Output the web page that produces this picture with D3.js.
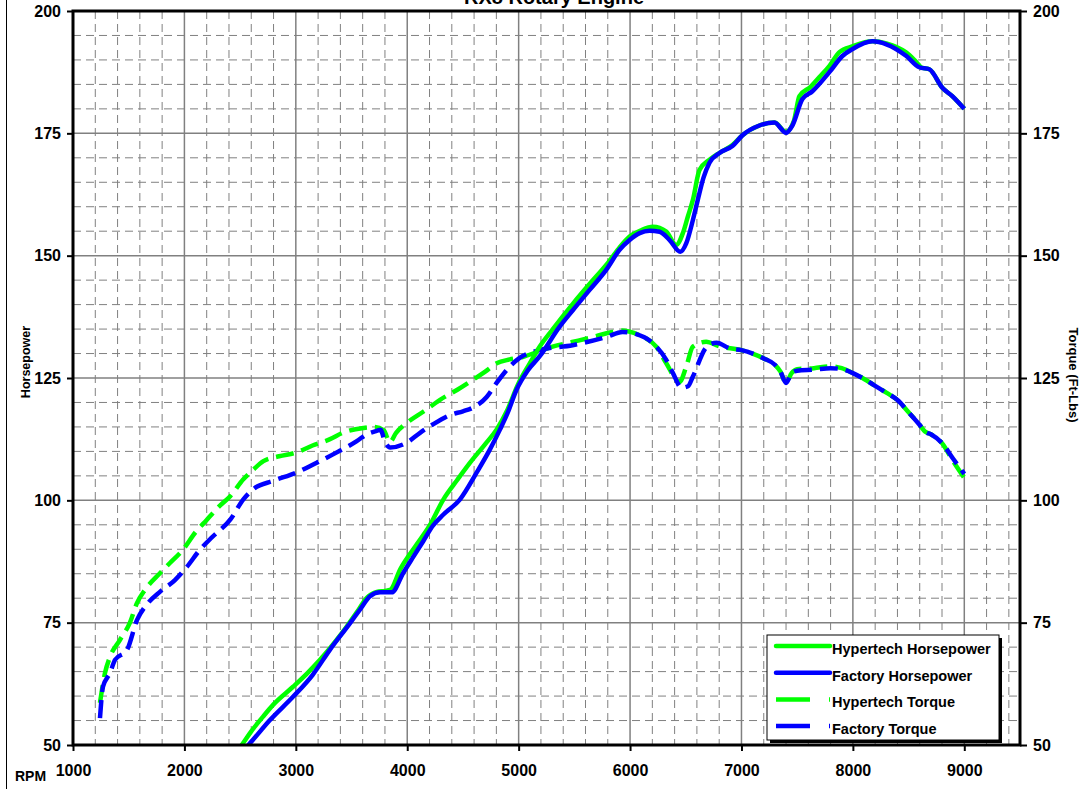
<!DOCTYPE html>
<html>
<head>
<meta charset="utf-8">
<script src="https://cdn.jsdelivr.net/npm/d3@7"></script>
<style>
  html, body { margin: 0; padding: 0; background: #fff; }
  svg { display: block; font-family: "Liberation Sans", Arial, sans-serif; font-weight: bold; }
</style>
</head>
<body>
<svg id="chart" width="1090" height="789"></svg>
<script>
// ---------- DATA ----------
const title = "RX8 Rotary Engine";
const rpmTicks = [1000, 2000, 3000, 4000, 5000, 6000, 7000, 8000, 9000];
const valueTicks = [50, 75, 100, 125, 150, 175, 200];

const hyperHpRpm = [2420, 2514, 2600, 2706, 2800, 2975, 3100, 3217, 3350, 3457, 3550, 3637, 3727, 3800, 3847, 3937, 4086, 4200, 4325, 4450, 4564, 4700, 4803, 4900, 4990, 5100, 5188, 5300, 5488, 5640, 5786, 5900, 5996, 6100, 6205, 6325, 6414, 6474, 6519, 6564, 6623, 6713, 6803, 6919, 7009, 7161, 7296, 7400, 7470, 7520, 7620, 7700, 7790, 7879, 8000, 8175, 8300, 8480, 8560, 8620, 8686, 8803, 8892, 9000];
const hyperHpVal = [47.5, 50, 52.8, 55.8, 58.3, 61.9, 64.6, 67.4, 71, 74.2, 77.2, 80.1, 81.3, 81.5, 81.7, 85.9, 91, 94.8, 100.2, 104.2, 107.7, 111.5, 114.5, 118.5, 123.5, 128, 131.4, 134.8, 140.2, 144.3, 148.1, 151.5, 153.9, 155.2, 155.9, 154.9, 152.2, 154.6, 158, 161.4, 167.5, 169.6, 171, 172.6, 174.6, 176.6, 177.2, 175.3, 177.5, 182.6, 184.5, 186.5, 188.8, 191.6, 192.8, 193.8, 193.4, 191.5, 189.8, 188.4, 188.1, 184.3, 182.6, 180];

const factHpRpm = [2480, 2574, 2768, 2977, 3150, 3307, 3487, 3580, 3666, 3756, 3861, 3965, 4050, 4145, 4230, 4325, 4474, 4624, 4740, 4833, 4900, 4979, 5080, 5188, 5368, 5488, 5637, 5786, 5906, 5996, 6086, 6175, 6265, 6355, 6451, 6504, 6564, 6608, 6660, 6713, 6803, 6919, 7009, 7161, 7296, 7400, 7457, 7547, 7637, 7789, 7906, 7996, 8175, 8300, 8480, 8596, 8686, 8803, 8892, 9000];
const factHpVal = [47.8, 50, 55.1, 59.9, 64.3, 69.5, 74.9, 77.8, 80.4, 81.2, 81.2, 85.2, 88.3, 91.7, 94.8, 97.1, 100.2, 105.7, 110.3, 114.5, 117.8, 122.5, 126.5, 129.4, 135.5, 138.9, 143, 147.1, 151.2, 153.2, 154.6, 155.1, 154.9, 153.2, 150.8, 152.5, 157.3, 161.4, 166, 169, 171, 172.4, 174.6, 176.6, 177.2, 175.1, 176.6, 182, 183.6, 187.5, 190.8, 192.2, 193.8, 193.2, 190.8, 188.5, 188.1, 184.3, 182.6, 180];

const hyperTqRpm = [1242, 1287, 1332, 1422, 1511, 1574, 1646, 1780, 1870, 1987, 2100, 2200, 2300, 2413, 2529, 2620, 2709, 2850, 3008, 3150, 3307, 3422, 3606, 3700, 3790, 3843, 3900, 3996, 4150, 4291, 4450, 4587, 4700, 4802, 4920, 5036, 5188, 5305, 5470, 5637, 5843, 5920, 5990, 6100, 6235, 6325, 6444, 6504, 6564, 6683, 6800, 7000, 7200, 7300, 7350, 7400, 7450, 7500, 7650, 7800, 7900, 8000, 8100, 8200, 8300, 8400, 8500, 8600, 8650, 8700, 8800, 8900, 9000];
const hyperTqVal = [58.6, 64.7, 68, 71.5, 75, 79, 81.7, 85.1, 87.2, 89.9, 93.5, 96, 98.5, 100.9, 104.3, 106.3, 108, 109, 109.8, 111.2, 112.5, 113.8, 114.8, 115, 114.3, 111.9, 113.8, 115.8, 118.2, 120.5, 122.6, 124.6, 126.3, 128, 128.8, 129.3, 130.5, 131.4, 132.3, 133.2, 134.4, 134.7, 134.5, 133.6, 131.4, 128, 124.2, 127.3, 131.4, 132.4, 131.5, 130.7, 129, 127.7, 126.3, 124, 126, 126.8, 127, 127.4, 127, 126, 124.8, 123.4, 122, 120.5, 118, 115.4, 114, 113.5, 111.7, 108, 104.6];

const factTqRpm = [1242, 1269, 1332, 1377, 1484, 1574, 1673, 1780, 1915, 2022, 2139, 2250, 2413, 2529, 2619, 2799, 3008, 3188, 3368, 3547, 3637, 3727, 3760, 3800, 3847, 3996, 4115, 4229, 4381, 4500, 4587, 4713, 4802, 4919, 5009, 5188, 5484, 5789, 5933, 6050, 6205, 6325, 6385, 6462, 6520, 6564, 6686, 6776, 6900, 7000, 7200, 7300, 7350, 7400, 7450, 7500, 7650, 7800, 7900, 8000, 8100, 8200, 8300, 8400, 8500, 8600, 8650, 8700, 8800, 8900, 9000];
const factTqVal = [55.5, 61.9, 64.7, 67.4, 69.4, 75.5, 79, 81.3, 83.7, 86.4, 89.9, 92.5, 96.1, 100.2, 102.3, 104, 105.7, 107.7, 109.8, 112.1, 113.5, 114.2, 114.4, 112, 110.8, 111.8, 113.8, 115.5, 117.4, 118.2, 118.9, 121.1, 124, 127.3, 129.1, 130.7, 131.7, 133.4, 134.4, 134, 132.1, 128.7, 126, 123, 123.3, 125.3, 131.3, 132.2, 131, 130.7, 129, 127.7, 126.3, 124, 126, 126.5, 126.7, 127, 126.8, 126, 124.8, 123.4, 122, 120.5, 118, 115.4, 114, 113.5, 111.7, 108.5, 105.4];

const seriesNames = ["Hypertech Horsepower", "Factory Horsepower", "Hypertech Torque", "Factory Torque"];
const seriesColors = ["#00ff00", "#0000ff", "#00ff00", "#0000ff"];

// ---------- CHART ----------
(function () {
const svg = d3.select("#chart");
const pL = 73, pR = 1020, pT = 11, pB = 745;
const x = d3.scaleLinear().domain([1000, 9500]).range([pL, pR]);
const y = d3.scaleLinear().domain([50, 200]).range([pB, pT]);

// outer chart-area edge
svg.append("line").attr("x1", 6.5).attr("x2", 6.5).attr("y1", 0).attr("y2", 789)
  .attr("stroke", "#000").attr("stroke-width", 1);

// title (partly above the top edge, as in the source)
svg.append("text").attr("x", 554).attr("y", 4).attr("text-anchor", "middle")
  .attr("font-size", 20).text(title);

// grid
const grid = svg.append("g");
const minorX = d3.range(1000, 9501, 200).filter(v => v % 1000 !== 0 && v < 9500);
const minorY = d3.range(50, 201, 5).filter(v => v % 25 !== 0);
grid.selectAll(".mx").data(minorX).join("line")
  .attr("x1", d => x(d)).attr("x2", d => x(d)).attr("y1", pT).attr("y2", pB)
  .attr("stroke", "#808080").attr("stroke-width", 1).attr("stroke-dasharray", "8,5");
grid.selectAll(".my").data(minorY).join("line")
  .attr("x1", pL).attr("x2", pR).attr("y1", d => y(d)).attr("y2", d => y(d))
  .attr("stroke", "#808080").attr("stroke-width", 1).attr("stroke-dasharray", "8,5");
grid.selectAll(".MX").data(rpmTicks.filter(v => v > 1000)).join("line")
  .attr("x1", d => x(d)).attr("x2", d => x(d)).attr("y1", pT).attr("y2", pB)
  .attr("stroke", "#808080").attr("stroke-width", 1.5);
grid.selectAll(".MY").data(valueTicks.filter(v => v > 50 && v < 200)).join("line")
  .attr("x1", pL).attr("x2", pR).attr("y1", d => y(d)).attr("y2", d => y(d))
  .attr("stroke", "#808080").attr("stroke-width", 1.5);

// clip
svg.append("clipPath").attr("id", "plotclip").append("rect")
  .attr("x", pL).attr("y", pT).attr("width", pR - pL).attr("height", pB - pT);

const line = d3.line().x(d => x(d[0])).y(d => y(d[1])).curve(d3.curveMonotoneX);
const zip = (a, b) => a.map((v, i) => [v, b[i]]);
const series = [
  { data: zip(hyperTqRpm, hyperTqVal), color: seriesColors[2], dash: "18,8" },
  { data: zip(factTqRpm, factTqVal), color: seriesColors[3], dash: "18,8" },
  { data: zip(hyperHpRpm, hyperHpVal), color: seriesColors[0], dash: null },
  { data: zip(factHpRpm, factHpVal), color: seriesColors[1], dash: null }
];
const plot = svg.append("g").attr("clip-path", "url(#plotclip)");
series.forEach(s => {
  plot.append("path").datum(s.data).attr("d", line)
    .attr("fill", "none").attr("stroke", s.color).attr("stroke-width", 4.5)
    .attr("stroke-linejoin", "round")
    .attr("stroke-dasharray", s.dash);
});

// axes
const fs = 16;
const axL = svg.append("g").attr("transform", `translate(${pL},0)`)
  .call(d3.axisLeft(y).tickValues(valueTicks).tickSize(6).tickPadding(6));
const axR = svg.append("g").attr("transform", `translate(${pR},0)`)
  .call(d3.axisRight(y).tickValues(valueTicks).tickSize(7).tickPadding(6));
const axB = svg.append("g").attr("transform", `translate(0,${pB})`)
  .call(d3.axisBottom(x).tickValues(rpmTicks).tickSize(6).tickFormat(d3.format("d")));
[axL, axR, axB].forEach(a => {
  a.select(".domain").remove();
  a.selectAll(".tick line").attr("stroke", "#000").attr("stroke-width", 2);
  a.selectAll("text").attr("font-size", fs).attr("font-weight", "bold")
    .attr("font-family", "Liberation Sans, Arial, sans-serif").attr("fill", "#000");
});
axB.selectAll("text").attr("y", 20).attr("dy", "0.71em");

// plot border
svg.append("rect").attr("x", pL).attr("y", pT).attr("width", pR - pL).attr("height", pB - pT)
  .attr("fill", "none").attr("stroke", "#000").attr("stroke-width", 3);

// axis titles
svg.append("text").attr("transform", `translate(30,362) rotate(-90)`)
  .attr("text-anchor", "middle").attr("font-size", 12.5).text("Horsepower");
svg.append("text").attr("transform", `translate(1069,375) rotate(90)`)
  .attr("text-anchor", "middle").attr("font-size", 13).text("Torque (Ft-Lbs)");
svg.append("text").attr("x", 15).attr("y", 781).attr("font-size", 14).text("RPM");

// legend
const lg = svg.append("g");
const lx = 767, ly = 635, lw = 232, lh = 105;
lg.append("rect").attr("x", lx + 3).attr("y", ly + 3).attr("width", lw).attr("height", lh).attr("fill", "#000");
lg.append("rect").attr("x", lx).attr("y", ly).attr("width", lw).attr("height", lh)
  .attr("fill", "#fff").attr("stroke", "#000").attr("stroke-width", 1);
const legDash = [null, null, "34,19", "34,19"];
seriesNames.forEach((name, i) => {
  const cy = 646 + i * 26.7;
  lg.append("line").attr("x1", 776).attr("x2", 830).attr("y1", cy).attr("y2", cy)
    .attr("stroke", seriesColors[i]).attr("stroke-width", 4.5)
    .attr("stroke-linecap", i < 2 ? "round" : "butt")
    .attr("stroke-dasharray", legDash[i]);
  lg.append("text").attr("x", 832).attr("y", cy + 8).attr("font-size", 14.5).text(name);
});
})();
</script>
</body>
</html>
